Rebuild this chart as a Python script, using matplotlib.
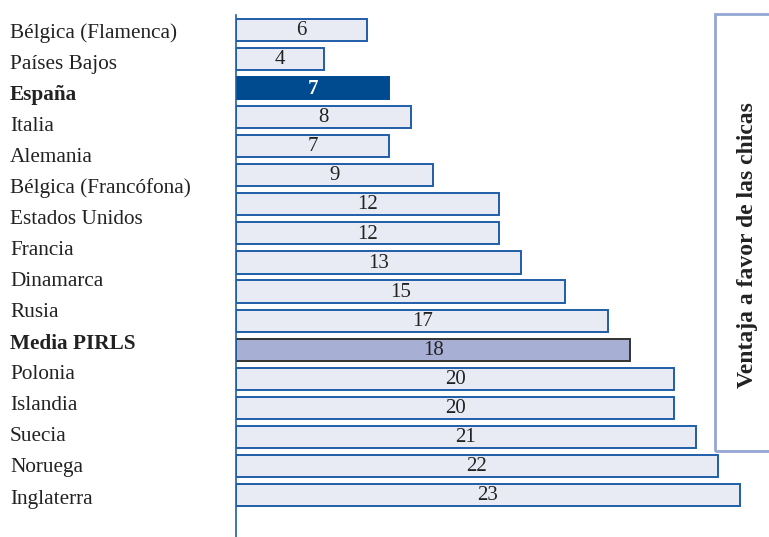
import matplotlib.pyplot as plt
from matplotlib.patches import Rectangle

plt.rcParams['font.family'] = ['Liberation Serif', 'DejaVu Serif']

# ── Data: girls' reading advantage (score points) ────────────────────────
paises = ["Bélgica (Flamenca)", "Países Bajos", "España", "Italia", "Alemania",
          "Bélgica (Francófona)", "Estados Unidos", "Francia", "Dinamarca",
          "Rusia", "Media PIRLS", "Polonia", "Islandia", "Suecia", "Noruega",
          "Inglaterra"]
destacados = ["España", "Media PIRLS"]

ventaja = [6, 4, 7, 8, 7, 9, 12, 12, 13, 15, 17, 18, 20, 20, 21, 22, 23]
idx_espana = 2
idx_media = 11

W, H = 769, 537
fig = plt.figure(figsize=(W / 100, H / 100), dpi=100)
fig.patch.set_facecolor("white")

# axes: left edge on the vertical axis line, bars 29 px apart
x0, y_top, y_bot = 236, 15, 537
ax = fig.add_axes([x0 / W, 0, 1 - x0 / W, 1 - y_top / H])
step = 29.06
ax.set_xlim(0, (W - x0) / 21.9)
ax.set_ylim((y_bot - 30) / step, -(30 - y_top) / step)

AZUL = "#1f5ea8"
for i, v in enumerate(ventaja):
    if i == idx_espana:
        fc, ec, tc, fw = "#004a8f", "#004a8f", "white", "bold"
    elif i == idx_media:
        fc, ec, tc, fw = "#a7afd5", "#333333", "#222222", "normal"
    else:
        fc, ec, tc, fw = "#e8ebf4", AZUL, "#222222", "normal"
    ax.barh(i, v, height=0.76, color=fc, edgecolor=ec, linewidth=1.4)
    ax.text(v / 2, i + 0.02, str(v), ha="center", va="center", fontsize=15,
            color=tc, fontweight=fw)

for sp in ["top", "right", "bottom"]:
    ax.spines[sp].set_visible(False)
ax.spines["left"].set_color(AZUL)
ax.spines["left"].set_linewidth(1.2)
ax.set_xticks([])
ax.set_yticks([])

# country names (own spacing, 31 px per row)
for j, p in enumerate(paises):
    yp = 33 + j * 31.07
    fig.text(10 / W, 1 - yp / H, p, ha="left", va="center", fontsize=15.3,
             color="#222222",
             fontweight="bold" if p in destacados else "normal")

# side frame with rotated caption
fig.patches.append(Rectangle((715 / W, 1 - 451 / H), 80 / W, 437 / H,
                             transform=fig.transFigure, fill=False,
                             edgecolor="#94a6d2", linewidth=2.0))
fig.text(747 / W, 1 - 245 / H, "Ventaja a favor de las chicas", rotation=90,
         ha="center", va="center", fontsize=17, fontweight="bold",
         color="#222222")

fig.savefig("out.png", dpi=100, facecolor="white")
